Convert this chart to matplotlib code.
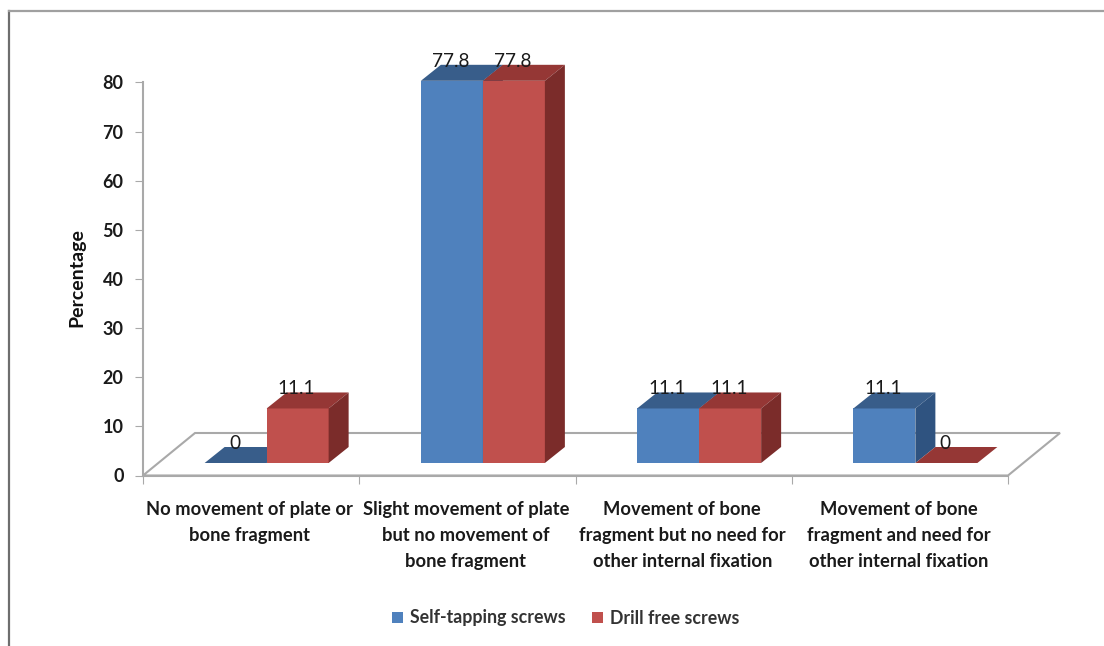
import matplotlib
matplotlib.use("Agg")
import matplotlib.pyplot as plt
from matplotlib.lines import Line2D
from matplotlib.patches import Polygon

categories = [
    "No movement of plate or\nbone fragment",
    "Slight movement of plate\nbut no movement of\nbone fragment",
    "Movement of bone\nfragment but no need for\nother internal fixation",
    "Movement of bone\nfragment and need for\nother internal fixation",
]
self_tapping = [0, 77.8, 11.1, 11.1]
drill_free = [11.1, 77.8, 11.1, 0]
yticks = [0, 10, 20, 30, 40, 50, 60, 70, 80]

W, H = 1104, 646
plt.rcParams["font.family"] = ["Lato", "DejaVu Sans"]

fig = plt.figure(figsize=(W / 100, H / 100), dpi=100, facecolor="white")

# axes box in pixels: the front edge of the floor and the value axis
left, right, bottom, top = 143, 1008, 475.5, 82.5
ax = fig.add_axes([left / W, 1 - bottom / H, (right - left) / W, (bottom - top) / H])
ax.set_xlim(0, 4)
ax.set_ylim(0, 80)
ax.patch.set_visible(False)

px_x = 4 / (right - left)
px_y = 80 / (bottom - top)

grey = "#a9a9a9"

# floor of the 3d box
floor_dx, floor_dy = 52 * px_x, 42.5 * px_y
ax.add_patch(Polygon([(0, 0), (4, 0), (4 + floor_dx, floor_dy), (floor_dx, floor_dy)],
                     closed=True, fc="white", ec=grey, lw=1.5, clip_on=False, zorder=1))

bar_w = 62 * px_x
base = 12.5 * px_y
dx, dy = 20 * px_x, 16 * px_y
shift = 15.5 * px_x


def bar3d(x, value, front, topc, side):
    ax.bar(x, value, bar_w, bottom=base, align="edge", color=front, zorder=3, clip_on=False)
    y1 = base + value
    ax.add_patch(Polygon([(x, y1), (x + bar_w, y1), (x + bar_w + dx, y1 + dy), (x + dx, y1 + dy)],
                         closed=True, fc=topc, ec="none", clip_on=False, zorder=3))
    if value > 0:
        ax.add_patch(Polygon([(x + bar_w, base), (x + bar_w + dx, base + dy),
                              (x + bar_w + dx, y1 + dy), (x + bar_w, y1)],
                             closed=True, fc=side, ec="none", clip_on=False, zorder=3))


for i in range(4):
    c = i + 0.5 + shift
    bar3d(c - bar_w, self_tapping[i], "#4f81bd", "#385d8a", "#2f5380")
    bar3d(c, drill_free[i], "#c0504d", "#953735", "#7b2c2a")

for i in range(4):
    c = i + 0.5 + shift
    for x, v in ((c - bar_w, self_tapping[i]), (c, drill_free[i])):
        ax.text(x + bar_w / 2 - 1 * px_x, base + v + dy + 3.5 * px_y, f"{v:g}", ha="center", va="center",
                fontsize=13.7, color="#1a1a1a", zorder=5, clip_on=False)

for s in ("top", "right"):
    ax.spines[s].set_visible(False)
for s in ("left", "bottom"):
    ax.spines[s].set_color(grey)
    ax.spines[s].set_linewidth(1.5)

ax.set_yticks(yticks)
ax.set_xticks(range(5))
ax.set_xticklabels([])
ax.tick_params(axis="y", length=6, width=0.8, color=grey, labelsize=13, pad=8, labelcolor="#1a1a1a")
ax.tick_params(axis="x", length=6, width=0.8, color=grey)
for t in ax.get_yticklabels():
    t.set_fontweight("bold")

for i, label in enumerate(categories):
    ax.annotate(label, xy=(i + 0.5, 0), xycoords="data", xytext=(-1, -18.2), textcoords="offset points",
                ha="center", va="top", fontsize=13.2, fontweight="bold", color="#1a1a1a",
                linespacing=1.64, annotation_clip=False)

fig.text(77 / W, 1 - 278 / H, "Percentage", rotation=90, ha="center", va="center",
         fontsize=14, fontweight="bold", color="#111111")

# legend
handles = [Polygon([(0, 0)], fc="#4f81bd"), Polygon([(0, 0)], fc="#c0504d")]
fig.legend(handles, ["Self-tapping screws", "Drill free screws"], ncol=2, frameon=False,
           loc="center", bbox_to_anchor=(565.5 / W, 1 - 618 / H),
           prop={"weight": "bold", "size": 12.8}, handlelength=0.6, handleheight=0.6,
           handletextpad=0.4, columnspacing=1.5, labelcolor="#333333")

# outer frame of the pasted picture
fig.add_artist(Line2D([9 / W, 9 / W], [0, 1 - 11 / H], color="#6e6e6e", lw=1.6))
fig.add_artist(Line2D([9 / W, 1], [1 - 11 / H, 1 - 11 / H], color="#a0a0a0", lw=1.6))

fig.savefig("out.png", dpi=100, facecolor="white")
